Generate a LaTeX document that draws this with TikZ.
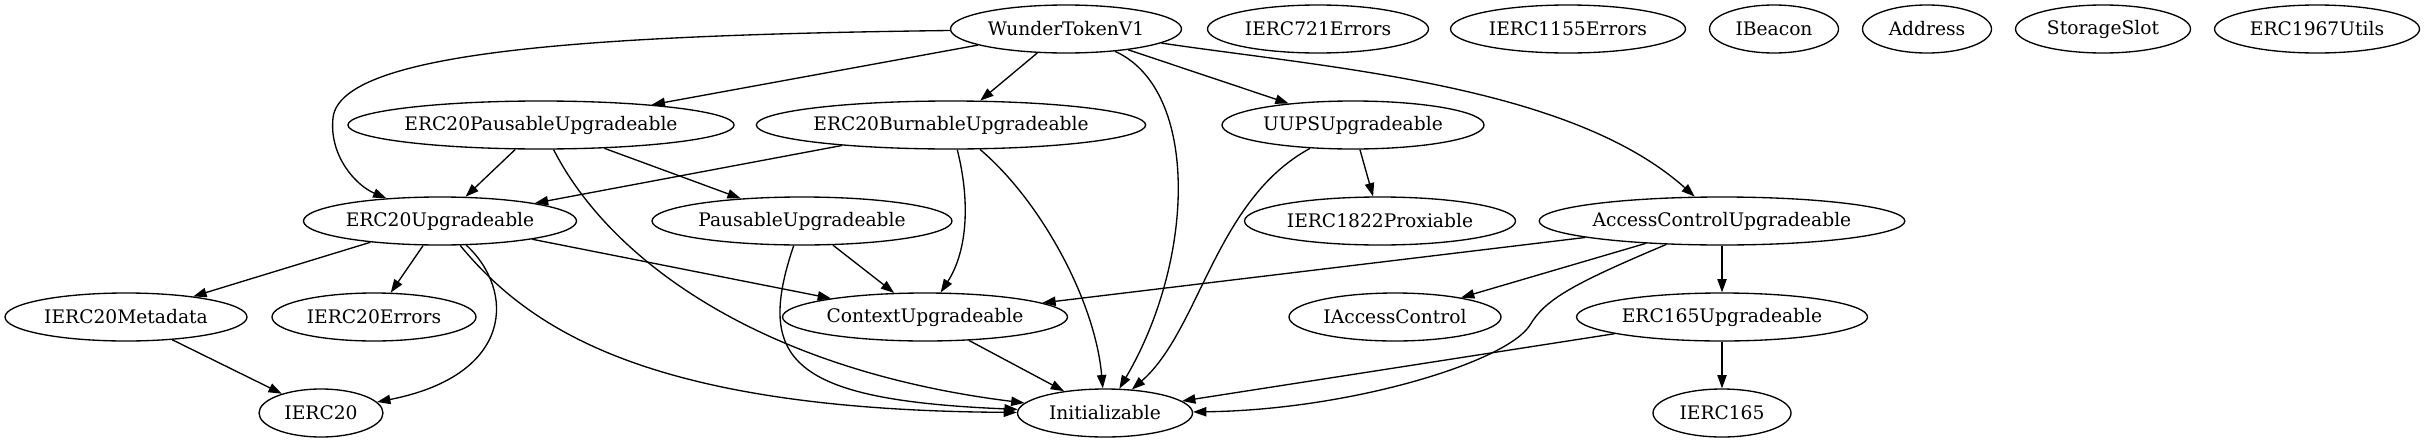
\documentclass[tikz,border=0pt]{standalone}
\usepackage{fontspec}
\setmainfont{DejaVu Serif}
\usetikzlibrary{shapes,arrows.meta}

\begin{document}
\begin{tikzpicture}[x=0.75pt,y=-0.75pt,
		cls/.style={draw,ellipse,line width=1pt,inner sep=0pt,minimum height=36pt,font=\fontsize{14}{16}\selectfont},
		dep/.style={-{Triangle[length=10pt,width=7pt]},line width=1pt}]
		\useasboundingbox (0,0) rectangle (2426,443);

		\node[cls,minimum width=173.25pt] (w) at (1066,29) {WunderTokenV1};
		\node[cls,minimum width=165.75pt] (e721) at (1318,29) {IERC721Errors};
		\node[cls,minimum width=176.25pt] (e1155) at (1568,29) {IERC1155Errors};
		\node[cls,minimum width=96.75pt] (beacon) at (1774,29) {IBeacon};
		\node[cls,minimum width=96.75pt] (addr) at (1927,29) {Address};
		\node[cls,minimum width=131.25pt] (slot) at (2103,29) {StorageSlot};
		\node[cls,minimum width=153.75pt] (utils) at (2317,29) {ERC1967Utils};

		\node[cls,minimum width=287.25pt] (epu) at (541,125) {ERC20PausableUpgradeable};
		\node[cls,minimum width=291pt] (ebu) at (951,125) {ERC20BurnableUpgradeable};
		\node[cls,minimum width=196.5pt] (uups) at (1353,125) {UUPSUpgradeable};

		\node[cls,minimum width=204.75pt] (e20u) at (440,221) {ERC20Upgradeable};
		\node[cls,minimum width=225pt] (pu) at (802,221) {PausableUpgradeable};
		\node[cls,minimum width=203.25pt] (proxi) at (1380,221) {IERC1822Proxiable};
		\node[cls,minimum width=273.75pt] (acu) at (1722,221) {AccessControlUpgradeable};

		\node[cls,minimum width=181.5pt] (meta) at (126,317) {IERC20Metadata};
		\node[cls,minimum width=153pt] (errs) at (374,317) {IERC20Errors};
		\node[cls,minimum width=213.75pt] (ctx) at (925,317) {ContextUpgradeable};
		\node[cls,minimum width=159pt] (iac) at (1395,317) {IAccessControl};
		\node[cls,minimum width=218.25pt] (e165u) at (1722,317) {ERC165Upgradeable};

		\node[cls,minimum width=93pt] (ierc20) at (321,413) {IERC20};
		\node[cls,minimum width=131.25pt] (init) at (1105,413) {Initializable};
		\node[cls,minimum width=103.5pt] (ierc165) at (1722,413) {IERC165};

		\draw[dep] (w) .. controls (600,35) and (340,50) .. (333,118) .. controls (329,155) and (355,185) .. (e20u);
		\draw[dep] (w) -- (epu);
		\draw[dep] (w) -- (ebu);
		\draw[dep] (w) .. controls (1200,90) and (1195,260) .. (init);
		\draw[dep] (w) -- (uups);
		\draw[dep] (w) .. controls (1330,68) and (1570,85) .. (acu);

		\draw[dep] (epu) -- (e20u);
		\draw[dep] (epu) -- (pu);
		\draw[dep] (epu) .. controls (610,260) and (760,370) .. (init);
		\draw[dep] (ebu) -- (e20u);
		\draw[dep] (ebu) .. controls (970,200) and (968,250) .. (ctx);
		\draw[dep] (ebu) .. controls (1040,200) and (1095,300) .. (init);
		\draw[dep] (uups) -- (proxi);
		\draw[dep] (uups) .. controls (1215,200) and (1200,330) .. (init);

		\draw[dep] (e20u) -- (meta);
		\draw[dep] (e20u) -- (errs);
		\draw[dep] (e20u) .. controls (515,290) and (515,375) .. (ierc20);
		\draw[dep] (e20u) .. controls (530,330) and (650,410) .. (init);
		\draw[dep] (e20u) -- (ctx);
		\draw[dep] (pu) -- (ctx);
		\draw[dep] (pu) .. controls (755,360) and (790,400) .. (init);
		\draw[dep] (acu) -- (ctx);
		\draw[dep] (acu) -- (iac);
		\draw[dep] (acu) .. controls (1570,285) and (1545,300) .. (1530,325) .. controls (1507,362) and (1350,410) .. (init);
		\draw[dep] (acu) -- (e165u);

		\draw[dep] (meta) -- (ierc20);
		\draw[dep] (ctx) -- (init);
		\draw[dep] (e165u) -- (init);
		\draw[dep] (e165u) -- (ierc165);
	\end{tikzpicture}
\end{document}
